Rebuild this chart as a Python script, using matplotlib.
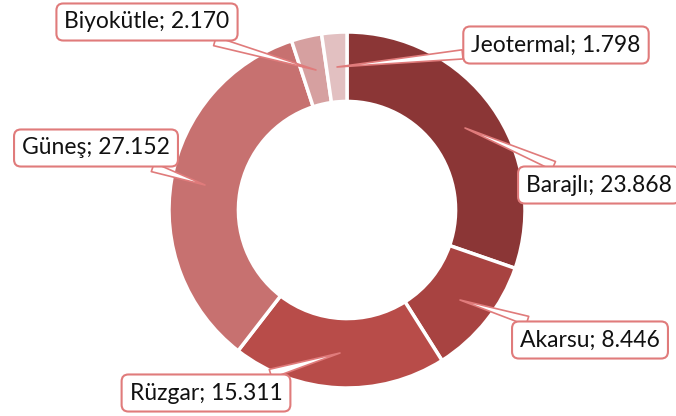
import matplotlib.pyplot as plt

plt.rcParams['font.family'] = ['Lato', 'DejaVu Sans']

kaynak = ["Barajlı", "Akarsu", "Rüzgar", "Güneş", "Biyokütle", "Jeotermal"]
deger = [23.868, 8.446, 15.311, 27.152, 2.170, 1.798]
etiket = ["23.868", "8.446", "15.311", "27.152", "2.170", "1.798"]
renk = ["#8B3636", "#A84341", "#B84C49", "#C77170", "#D6A0A0", "#E2C0C1"]

# kutu merkezleri ve ok uclari (piksel, ustten)
kutu = [(599, 185), (590, 340), (206, 393), (96, 148), (147, 22), (556, 45)]
uc = [(465, 128), (460, 300), (340, 353), (205, 185), (316, 70), (337, 67)]

H = 416
fig = plt.figure(figsize=(6.76, 4.16), dpi=100)
ax = fig.add_axes([0, 0, 1, 1])

ax.pie(deger, colors=renk, startangle=90, counterclock=False,
       center=(347, H - 210), radius=178,
       wedgeprops=dict(width=178 * 0.39, edgecolor='white', linewidth=2.5))

ax.set_xlim(0, 676)
ax.set_ylim(0, H)
ax.set_aspect('equal')
ax.axis('off')

kenar = "#E07B7B"
for ad, e, k, u in zip(kaynak, etiket, kutu, uc):
    ax.annotate(ad + "; " + e, xy=(u[0], H - u[1]), xytext=(k[0], H - k[1]),
                ha='center', va='center', fontsize=16.5, color='#111111',
                bbox=dict(boxstyle="round,pad=0.35,rounding_size=0.3",
                          fc='white', ec=kenar, lw=1.5),
                arrowprops=dict(arrowstyle="wedge,tail_width=0.4,shrink_factor=0.5",
                                fc='white', ec=kenar, lw=1.2,
                                shrinkA=0, shrinkB=0))

fig.savefig("out.png", dpi=100)
